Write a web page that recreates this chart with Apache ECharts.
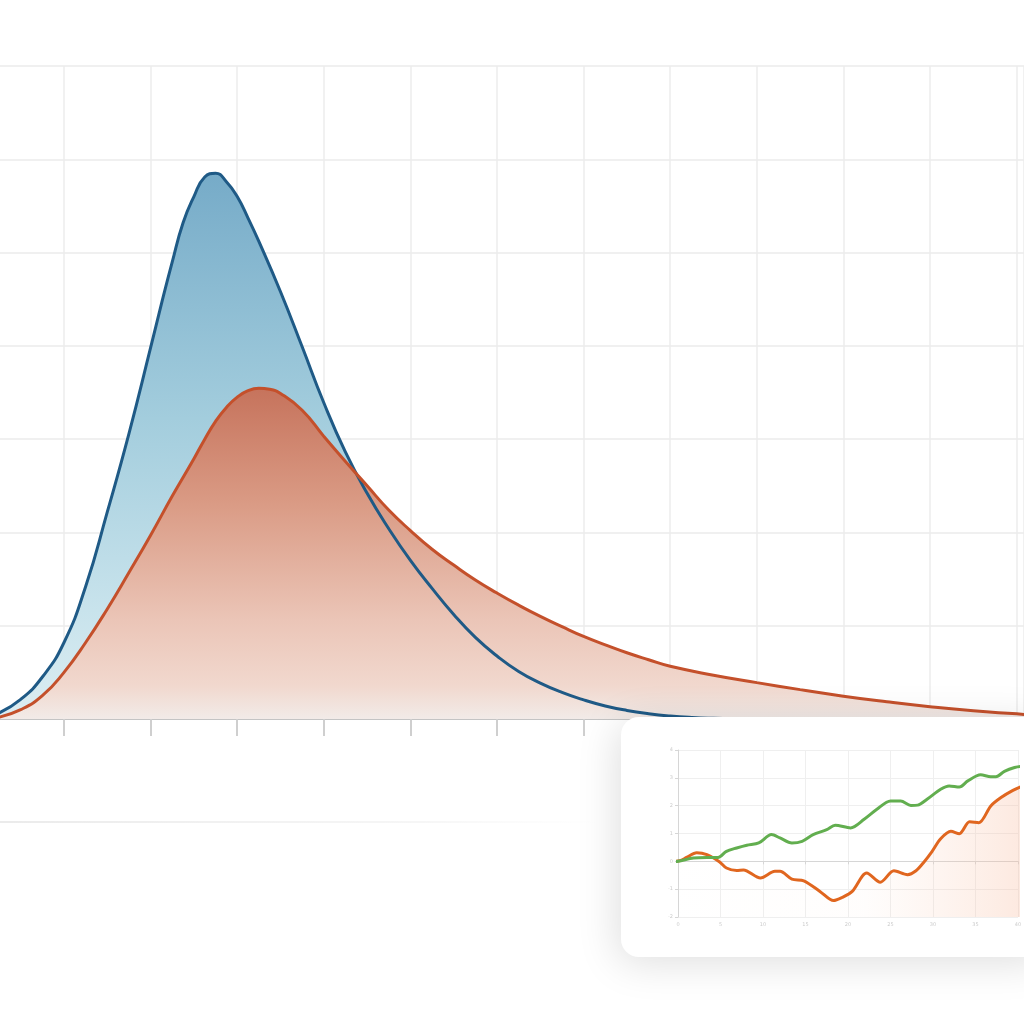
<!DOCTYPE html>
<html>
<head>
<meta charset="utf-8">
<script src="https://cdn.jsdelivr.net/npm/echarts@6/dist/echarts.min.js"></script>
<style>html,body{margin:0;padding:0;background:#fff;}#c{width:1024px;height:1024px;}</style>
</head>
<body>
<div id="c"></div>
<script>
// Main density chart (x in grid units, y density)
var blueX = [0.25,0.5,0.75,1.0,1.25,1.5,1.75,2.0,2.125,2.25,2.375,2.5,2.625,2.75,2.875,3.0,3.125,3.25,3.5,3.75,4.0,4.25,4.5,4.75,5.0,5.25,5.5,5.75,6.0,6.25,6.5,6.75,7.0,7.25,7.5,7.75,8.0,8.25,8.5,8.75,9.0,9.5,10.0,10.5,11.0,11.5,12.0,12.1];
var blueY = [0.0065,0.021,0.045,0.082,0.142,0.222,0.306,0.398,0.445,0.490,0.532,0.560,0.581,0.585,0.576,0.560,0.537,0.512,0.458,0.399,0.339,0.286,0.242,0.204,0.170,0.140,0.112,0.0875,0.0675,0.051,0.0385,0.0285,0.0205,0.014,0.0092,0.0057,0.0032,0.0016,0.0007,0.0002,0,0,0,0,0,0,0,0];
var orangeX = [0.25,0.5,0.75,1.0,1.25,1.5,1.75,2.0,2.25,2.5,2.625,2.75,2.875,3.0,3.125,3.25,3.375,3.5,3.75,4.0,4.25,4.5,4.75,5.0,5.25,5.5,5.75,6.0,6.25,6.5,6.75,7.0,7.25,7.5,7.75,8.0,8.5,9.0,9.5,10.0,10.5,11.0,11.5,12.0,12.1];
var orangeY = [0.002,0.010,0.025,0.050,0.082,0.118,0.157,0.197,0.239,0.279,0.300,0.319,0.334,0.345,0.352,0.3545,0.3535,0.349,0.331,0.303,0.276,0.250,0.224,0.202,0.182,0.165,0.149,0.135,0.122,0.110,0.099,0.0885,0.0795,0.071,0.0635,0.0565,0.047,0.039,0.0315,0.0245,0.0185,0.0132,0.0088,0.0055,0.0048];

// Inset chart
var greenX = [-1,0,1.8,3.4,4.7,5.7,6.9,8.1,9.5,11.0,12.0,13.4,14.6,15.9,17.5,18.5,20.3,21.9,23.4,25.0,26.2,27.4,28.2,29.3,30.9,31.9,33.1,34.1,35.6,36.8,37.4,38.4,39.6,40.4,40.8];
var greenY = [-0.02,0,0.12,0.14,0.14,0.36,0.48,0.58,0.66,0.96,0.84,0.66,0.72,0.96,1.14,1.30,1.20,1.51,1.87,2.17,2.17,2.01,2.02,2.23,2.59,2.71,2.67,2.89,3.11,3.04,3.04,3.23,3.37,3.41,3.35];
var insetOrangeX = [-1,0.2,1.0,2.2,3.4,4.9,5.7,6.9,7.7,9.7,11.4,12.0,13.4,14.8,16.7,18.3,19.3,20.5,22.2,23.8,25.4,27.0,28.0,28.9,29.9,30.9,32.1,33.1,34.3,35.4,36.8,38.0,39.4,40.6];
var insetOrangeY = [0,0.02,0.14,0.31,0.24,-0.02,-0.24,-0.33,-0.31,-0.60,-0.36,-0.36,-0.64,-0.70,-1.08,-1.41,-1.30,-1.08,-0.42,-0.75,-0.34,-0.48,-0.34,-0.04,0.36,0.81,1.08,0.99,1.42,1.39,1.99,2.29,2.55,2.71];

function pairs(xs, ys){ return xs.map(function(x,i){ return [x, ys[i]]; }); }

var chart = echarts.init(document.getElementById('c'), null, {renderer:'canvas'});
var lg = function(stops){ return new echarts.graphic.LinearGradient(0,0,0,1, stops.map(function(s){return {offset:s[0], color:s[1]};})); };
var SM = 0.5;

var option = {
  backgroundColor: '#ffffff',
  animation: false,
  grid: [
    {left: -22.6, right: 0, top: 66, bottom: 305, outerBoundsMode: 'none', containLabel: false},
    {left: 678, top: 750, width: 340, height: 167, outerBoundsMode: 'none'}
  ],
  xAxis: [
    {type:'value', gridIndex:0, min:0, max:12.085, interval:1, z:0,
     axisLine:{show:true, lineStyle:{color:'#c4c4c4', width:2}},
     axisTick:{show:true, length:17, lineStyle:{color:'#cfcfcf', width:2}},
     axisLabel:{show:false},
     splitLine:{show:true, lineStyle:{color:'#ececec', width:1.5}}},
    {type:'value', gridIndex:1, min:0, max:40, interval:5, z:6,
     axisLine:{show:true, lineStyle:{color:'#d6d6d6', width:1}},
     axisTick:{show:true, length:3, lineStyle:{color:'#d6d6d6'}},
     axisLabel:{show:true, fontSize:5, color:'#cccccc', margin:5, fontFamily:'DejaVu Sans'},
     splitLine:{show:true, lineStyle:{color:'#efefef', width:1}}}
  ],
  yAxis: [
    {type:'value', gridIndex:0, min:0, max:0.7, interval:0.1, z:0,
     axisLine:{show:false}, axisTick:{show:false}, axisLabel:{show:false},
     splitLine:{show:true, lineStyle:{color:'#ebebeb', width:1.5}}},
    {type:'value', gridIndex:1, min:-2, max:4, interval:1, z:6,
     axisLine:{show:true, lineStyle:{color:'#d6d6d6', width:1}},
     axisTick:{show:true, length:3, lineStyle:{color:'#d6d6d6'}},
     axisLabel:{show:true, fontSize:5, color:'#cccccc', margin:5, fontFamily:'DejaVu Sans'},
     splitLine:{show:true, lineStyle:{color:'#efefef', width:1}}}
  ],
  graphic: [
    {type:'line', z:0, shape:{x1:0, y1:822, x2:600, y2:822},
     style:{stroke: new echarts.graphic.LinearGradient(0,0,1,0,[{offset:0,color:'rgba(225,225,225,0.9)'},{offset:0.7,color:'rgba(235,235,235,0.6)'},{offset:1,color:'rgba(240,240,240,0)'}]), lineWidth:1.5}},
    {type:'rect', z:5, shape:{x:621, y:717, width:430, height:240, r:18},
     style:{fill:'#ffffff', shadowBlur:40, shadowColor:'rgba(0,0,0,0.13)', shadowOffsetX:-4, shadowOffsetY:6}}
  ],
  series: [
    {type:'line', xAxisIndex:0, yAxisIndex:0, z:1, smooth:SM, symbol:'none', data:pairs(blueX, blueY),
     lineStyle:{width:0},
     areaStyle:{opacity:1, color: lg([[0,'#76abc8'],[0.45,'#a3cddd'],[0.8,'#c8e3ec'],[1,'#dcedf2']])}},
    {type:'line', xAxisIndex:0, yAxisIndex:0, z:1, smooth:SM, symbol:'none', data:pairs(orangeX, orangeY),
     lineStyle:{width:0},
     areaStyle:{opacity:1, color: lg([[0,'#c6735c'],[0.35,'#da9b85'],[0.7,'#ebc5b7'],[0.9,'#f1d8ce'],[1,'#f2ebe8']])}},
    {type:'line', xAxisIndex:0, yAxisIndex:0, z:2, smooth:SM, symbol:'none', data:pairs(blueX, blueY),
     lineStyle:{width:3, color:'#1f5a86'}},
    {type:'line', xAxisIndex:0, yAxisIndex:0, z:2, smooth:SM, symbol:'none', data:pairs(orangeX, orangeY),
     lineStyle:{width:3, color:'#c4502b'}},
    {type:'line', xAxisIndex:1, yAxisIndex:1, z:7, smooth:0.3, symbol:'none', clip:false, data:pairs(insetOrangeX, insetOrangeY),
     lineStyle:{width:3, color:'#e0661f'},
     areaStyle:{origin:'start', color: new echarts.graphic.LinearGradient(0,0,1,0,[{offset:0,color:'rgba(250,200,175,0)'},{offset:0.55,color:'rgba(250,205,180,0.05)'},{offset:1,color:'rgba(248,185,155,0.45)'}])}},
    {type:'line', xAxisIndex:1, yAxisIndex:1, z:7, smooth:0.3, symbol:'none', clip:false, data:pairs(greenX, greenY),
     lineStyle:{width:3, color:'#62ae4f'}}
  ]
};
chart.setOption(option);
</script>
</body>
</html>
